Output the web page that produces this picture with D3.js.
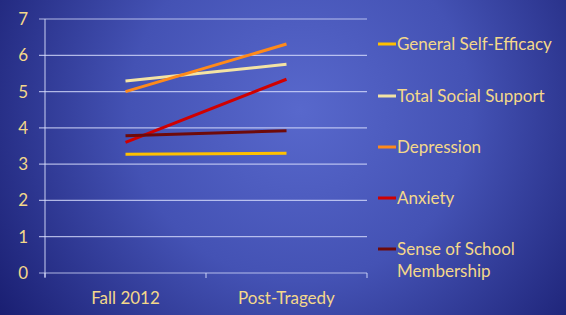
<!DOCTYPE html>
<html>
<head>
<meta charset="utf-8">
<script src="https://cdn.jsdelivr.net/npm/d3@7"></script>
<style>
  html, body { margin: 0; padding: 0; background: #1c2278; }
  svg { display: block; }
</style>
</head>
<body>
<svg id="chart"></svg>
<script>
// data
const periods = ['Fall 2012', 'Post-Tragedy'];
const seriesNames = ['General Self-Efficacy', 'Total Social Support', 'Depression', 'Anxiety', 'Sense of School Membership'];
const selfEfficacy = [3.27, 3.30];
const socialSupport = [5.29, 5.75];
const depression = [5.00, 6.31];
const anxiety = [3.60, 5.34];
const schoolMembership = [3.78, 3.92];
const yTicks = [0, 1, 2, 3, 4, 5, 6, 7];

const colors = ['#ffc000', '#f3e3a4', '#ff8a1a', '#d00000', '#6e0a0a'];
const allValues = [selfEfficacy, socialSupport, depression, anxiety, schoolMembership];

const width = 566, height = 315;
const margin = { top: 19, right: 199, bottom: 42, left: 45 };
const textColor = '#f4d88a';
const font = 'Lato, "Open Sans", sans-serif';

const svg = d3.select('#chart')
    .attr('width', width)
    .attr('height', height);

// background gradient
const defs = svg.append('defs');
const grad = defs.append('radialGradient')
    .attr('id', 'bg')
    .attr('gradientUnits', 'userSpaceOnUse')
    .attr('cx', 300).attr('cy', 110).attr('r', 380);
grad.append('stop').attr('offset', '0%').attr('stop-color', '#5868cc');
grad.append('stop').attr('offset', '45%').attr('stop-color', '#4452b4');
grad.append('stop').attr('offset', '100%').attr('stop-color', '#161a6c');

svg.append('rect')
    .attr('width', width)
    .attr('height', height)
    .attr('fill', 'url(#bg)');

const x = d3.scaleBand()
    .domain(periods)
    .range([margin.left, width - margin.right]);

const y = d3.scaleLinear()
    .domain([0, 7])
    .range([height - margin.bottom, margin.top]);

const gridColor = 'rgba(220,225,255,0.75)';

// gridlines
svg.append('g')
    .selectAll('line')
    .data(yTicks)
    .enter().append('line')
    .attr('x1', margin.left - 6)
    .attr('x2', width - margin.right)
    .attr('y1', d => y(d))
    .attr('y2', d => y(d))
    .attr('stroke', gridColor)
    .attr('stroke-width', 1.2);

// y axis line
svg.append('line')
    .attr('x1', margin.left).attr('x2', margin.left)
    .attr('y1', y(7)).attr('y2', y(0) + 4)
    .attr('stroke', gridColor)
    .attr('stroke-width', 1.2);

// x axis tick marks at band edges
svg.append('g')
    .selectAll('line')
    .data([x.range()[0], x(periods[1]), x.range()[1]])
    .enter().append('line')
    .attr('x1', d => d).attr('x2', d => d)
    .attr('y1', y(0)).attr('y2', y(0) + 5)
    .attr('stroke', gridColor)
    .attr('stroke-width', 1.2);

// y tick labels
svg.append('g')
    .selectAll('text')
    .data(yTicks)
    .enter().append('text')
    .attr('x', 28)
    .attr('y', d => y(d))
    .attr('dy', '0.35em')
    .attr('text-anchor', 'end')
    .style('font-family', font)
    .style('font-size', '17px')
    .style('fill', textColor)
    .text(d => d);

// x labels
svg.append('g')
    .selectAll('text')
    .data(periods)
    .enter().append('text')
    .attr('x', d => x(d) + x.bandwidth() / 2)
    .attr('y', 298)
    .attr('dy', '0.35em')
    .attr('text-anchor', 'middle')
    .style('font-family', font)
    .style('font-size', '17px')
    .style('fill', textColor)
    .text(d => d);

// series lines
const line = d3.line()
    .x((d, i) => x(periods[i]) + x.bandwidth() / 2)
    .y(d => y(d));

svg.append('g')
    .selectAll('path')
    .data(allValues)
    .enter().append('path')
    .attr('d', line)
    .attr('fill', 'none')
    .attr('stroke', (d, i) => colors[i])
    .attr('stroke-width', 3);

// legend
const legendY = [44, 96, 147, 198, 249];
const legend = svg.append('g')
    .selectAll('g')
    .data(seriesNames)
    .enter().append('g')
    .attr('transform', (d, i) => `translate(378, ${legendY[i]})`);

legend.append('line')
    .attr('x1', 0).attr('x2', 18)
    .attr('y1', 0).attr('y2', 0)
    .attr('stroke', (d, i) => colors[i])
    .attr('stroke-width', 3);

legend.append('text')
    .attr('x', 19)
    .attr('dy', '0.35em')
    .style('font-family', font)
    .style('font-size', '17px')
    .style('fill', textColor)
    .each(function(d) {
        const t = d3.select(this);
        if (d === 'Sense of School Membership') {
            t.append('tspan').attr('x', 19).text('Sense of School');
            t.append('tspan').attr('x', 19).attr('dy', 22).text('Membership');
        } else {
            t.text(d);
        }
    });
</script>
</body>
</html>
